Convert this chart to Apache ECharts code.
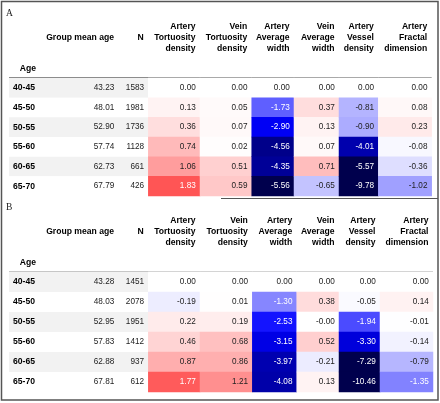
<!DOCTYPE html>
<html>
<head>
<meta charset="utf-8">
<script src="https://cdn.jsdelivr.net/npm/echarts@6/dist/echarts.min.js"></script>
<style>html,body{margin:0;padding:0;background:#fff;}#c{width:440px;height:403px;}</style>
</head>
<body>
<div id="c"></div>
<script>
// ---------- data ----------
const ageGroups = ['40-45','45-50','50-55','55-60','60-65','65-70'];
const columnTitles = ['Group mean age','N','Artery\nTortuosity\ndensity','Vein\nTortuosity\ndensity','Artery\nAverage\nwidth','Vein\nAverage\nwidth','Artery\nVessel\ndensity','Artery\nFractal\ndimension'];

const aMeanAge   = [43.23, 48.01, 52.90, 57.74, 62.73, 67.79];
const aN         = [1583, 1981, 1736, 1128, 661, 426];
const aArtTort   = [0.00, 0.13, 0.36, 0.74, 1.06, 1.83];
const aVeinTort  = [0.00, 0.05, 0.07, 0.02, 0.51, 0.59];
const aArtWidth  = [0.00, -1.73, -2.90, -4.56, -4.35, -5.56];
const aVeinWidth = [0.00, 0.37, 0.13, 0.07, 0.71, -0.65];
const aArtVessel = [0.00, -0.81, -0.90, -4.01, -5.57, -9.78];
const aArtFractal= [0.00, 0.08, 0.23, -0.08, -0.36, -1.02];

const bMeanAge   = [43.28, 48.03, 52.95, 57.83, 62.88, 67.81];
const bN         = [1451, 2078, 1951, 1412, 937, 612];
const bArtTort   = [0.00, -0.19, 0.22, 0.46, 0.87, 1.77];
const bVeinTort  = [0.00, 0.01, 0.19, 0.68, 0.86, 1.21];
const bArtWidth  = [0.00, -1.30, -2.53, -3.15, -3.97, -4.08];
const bVeinWidth = [0.00, 0.38, -0.003, 0.52, -0.21, 0.13];
const bArtVessel = [0.00, -0.05, -1.94, -3.30, -7.29, -10.46];
const bArtFractal= [0.00, 0.14, -0.01, -0.14, -0.79, -1.35];

// ---------- layout / style ----------
const FONT = '"Liberation Sans", Arial, Helvetica, sans-serif';
const VMAX = 5.5;
const panels = [
  { tag: 'A', tagY: 13, headY: 38, ageY: 68.5, lineY: 77.5, top: 78, height: 118,
    edges: [9, 45, 118.5, 148.3, 200, 251.7, 294, 339, 378.3, 431.7],
    plain: [aMeanAge, aN],
    heat: [aArtTort, aVeinTort, aArtWidth, aVeinWidth, aArtVessel, aArtFractal] },
  { tag: 'B', tagY: 207, headY: 231.7, ageY: 262.2, lineY: 272, top: 272, height: 120,
    edges: [9, 45, 118.5, 148.3, 200, 252.3, 296.7, 339, 380, 433],
    plain: [bMeanAge, bN],
    heat: [bArtTort, bVeinTort, bArtWidth, bVeinWidth, bArtVessel, bArtFractal] }
];

function seismic(v) {
  const stops = [[0,0,0.3],[0,0,1],[1,1,1],[1,0,0],[0.5,0,0]];
  let t = 0.5 + v / (2 * VMAX);
  t = Math.max(0, Math.min(1, t));
  const p = t * 4;
  const i = Math.min(3, Math.floor(p));
  const f = p - i;
  const a = stops[i], b = stops[i + 1];
  return [0,1,2].map(k => a[k] + (b[k] - a[k]) * f);
}
function rgbStr(c) { return 'rgb(' + c.map(x => Math.round(x * 255)).join(',') + ')'; }
function textColor(c) {
  const lin = x => x <= 0.03928 ? x / 12.92 : Math.pow((x + 0.055) / 1.055, 2.4);
  const L = 0.2126 * lin(c[0]) + 0.7152 * lin(c[1]) + 0.0722 * lin(c[2]);
  return L < 0.39 ? '#ffffff' : '#222222';
}

const grid = [], xAxis = [], yAxis = [], series = [], graphic = [];

panels.forEach(P => {
  // banded background + row labels
  let gi = grid.length;
  grid.push({ left: P.edges[0], top: P.top, width: P.edges[3] - P.edges[0], height: P.height });
  xAxis.push({ gridIndex: gi, type: 'category', data: [''], show: false });
  yAxis.push({ gridIndex: gi, type: 'category', data: ageGroups, inverse: true,
    axisLine: { show: false }, axisTick: { show: false },
    axisLabel: { inside: true, margin: 4, color: '#000', fontWeight: 'bold', fontSize: 8.6, fontFamily: FONT },
    splitLine: { show: false },
    splitArea: { show: true, interval: 0, areaStyle: { color: ['#f2f2f2', '#ffffff'] } } });

  // plain numeric columns (mean age, N)
  P.plain.forEach((vals, k) => {
    const g = grid.length;
    const c = k + 1;
    grid.push({ left: P.edges[c], top: P.top, width: P.edges[c + 1] - P.edges[c], height: P.height });
    xAxis.push({ gridIndex: g, type: 'category', data: [columnTitles[k]], show: false });
    yAxis.push({ gridIndex: g, type: 'category', data: ageGroups, inverse: true, show: false });
    series.push({
      type: 'heatmap', xAxisIndex: g, yAxisIndex: g, silent: true,
      data: vals.map((v, r) => ({ value: [0, r, v], itemStyle: { color: 'rgba(0,0,0,0)' } })),
      label: { show: true, position: 'insideRight', distance: 4.5, color: '#222', fontSize: 8.2, fontFamily: FONT,
        formatter: p => k === 0 ? p.value[2].toFixed(2) : String(p.value[2]) }
    });
  });

  // heat-coloured columns
  P.heat.forEach((vals, k) => {
    const g = grid.length;
    const c = k + 3;
    grid.push({ left: P.edges[c], top: P.top, width: P.edges[c + 1] - P.edges[c], height: P.height });
    xAxis.push({ gridIndex: g, type: 'category', data: [columnTitles[k + 2]], show: false });
    yAxis.push({ gridIndex: g, type: 'category', data: ageGroups, inverse: true, show: false });
    series.push({
      type: 'heatmap', xAxisIndex: g, yAxisIndex: g, silent: true,
      data: vals.map((v, r) => {
        const col = seismic(v);
        return { value: [0, r, v], itemStyle: { color: rgbStr(col) }, label: { color: textColor(col) } };
      }),
      label: { show: true, position: 'insideRight', distance: 4.5, fontSize: 8.2, fontFamily: FONT,
        formatter: p => p.value[2].toFixed(2) }
    });
  });

  // header texts
  columnTitles.forEach((t, k) => {
    graphic.push({ type: 'text', x: P.edges[k + 2] - 4.5, y: P.headY, silent: true,
      style: { text: t, align: 'right', verticalAlign: 'middle', lineHeight: 11,
        fontSize: 8.6, fontWeight: 'bold', fontFamily: FONT, fill: '#000' } });
  });
  graphic.push({ type: 'text', x: 36, y: P.ageY, silent: true,
    style: { text: 'Age', align: 'right', verticalAlign: 'middle', fontSize: 8.6, fontWeight: 'bold', fontFamily: FONT, fill: '#000' } });
  graphic.push({ type: 'text', x: 6, y: P.tagY, silent: true,
    style: { text: P.tag, align: 'left', verticalAlign: 'middle', fontSize: 9.5, fontFamily: '"Liberation Serif", "Times New Roman", serif', fill: '#222' } });
  graphic.push({ type: 'line', silent: true,
    shape: { x1: P.edges[0], y1: P.lineY, x2: P.edges[P.edges.length - 1], y2: P.lineY },
    style: { stroke: '#8c8c8c', lineWidth: 1 } });
});

// frame
graphic.push({ type: 'rect', silent: true, shape: { x: 1.5, y: 1.5, width: 436.5, height: 398.5 },
  style: { fill: 'none', stroke: '#555', lineWidth: 1.5 } });
graphic.push({ type: 'line', silent: true, shape: { x1: 221, y1: 198.5, x2: 438, y2: 198.5 },
  style: { stroke: '#555', lineWidth: 1 } });

const chart = echarts.init(document.getElementById('c'), null, { renderer: 'canvas' });
chart.setOption({ animation: false, backgroundColor: '#fff', grid, xAxis, yAxis, series, graphic });
</script>
</body>
</html>
